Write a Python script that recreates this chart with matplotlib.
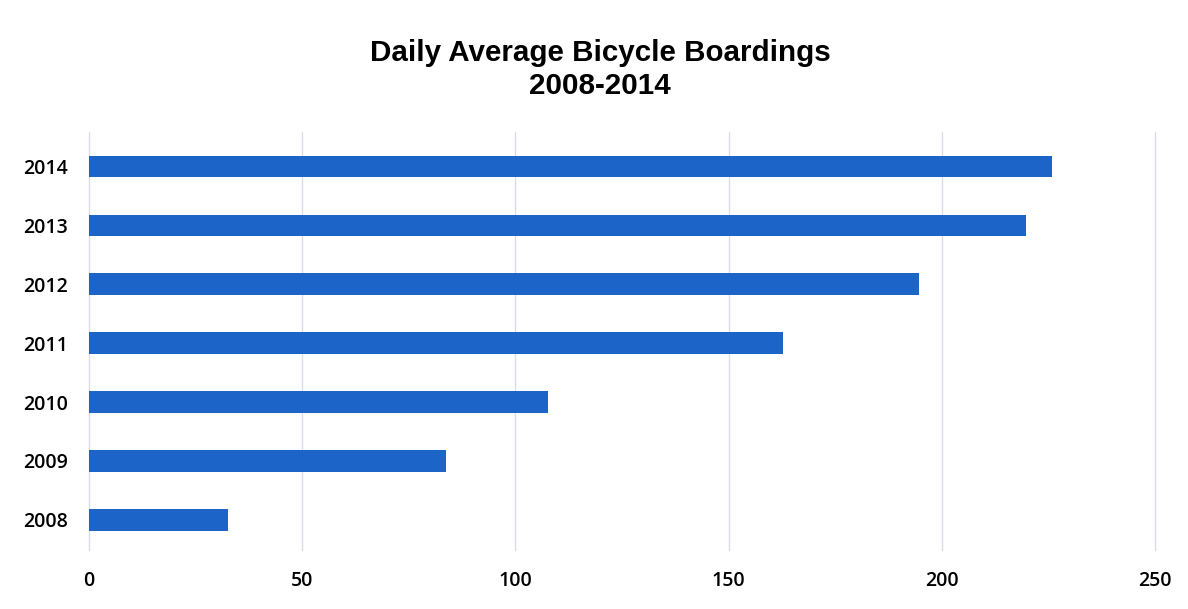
import matplotlib.pyplot as plt

years = ["2008", "2009", "2010", "2011", "2012", "2013", "2014"]
boardings = [32.6, 83.7, 107.6, 162.8, 194.7, 219.7, 225.8]
x_ticks = [0, 50, 100, 150, 200, 250]

fig = plt.figure(figsize=(11.88, 6.09), dpi=100)
ax = fig.add_axes([0.0749, 0.0969, 0.8973, 0.6864])

ax.barh(range(len(years)), boardings, height=0.36, color="#1d64c8", zorder=2)

ax.set_xlim(0, 250)
ax.set_ylim(-0.51, 6.58)
ax.set_xticks(x_ticks)
ax.set_yticks(range(len(years)))
ax.set_yticklabels(years)
ax.grid(axis="x", color="#dcdcef", linewidth=1.0, zorder=0)
for gl in ax.get_xgridlines():
    gl.set_clip_on(False)
ax.tick_params(length=0, labelsize=14)
ax.tick_params(axis="y", pad=15)
ax.tick_params(axis="x", pad=15)
for lbl in ax.get_xticklabels() + ax.get_yticklabels():
    lbl.set_fontfamily("Open Sans")
    lbl.set_fontweight("semibold")
for s in ax.spines.values():
    s.set_visible(False)

fig.text(0.505, 0.886, "Daily Average Bicycle Boardings\n2008-2014", ha="center", va="center",
         fontsize=21.3, fontweight="bold", fontfamily="Liberation Sans", linespacing=1.2)

fig.savefig("out.png", dpi=100)
